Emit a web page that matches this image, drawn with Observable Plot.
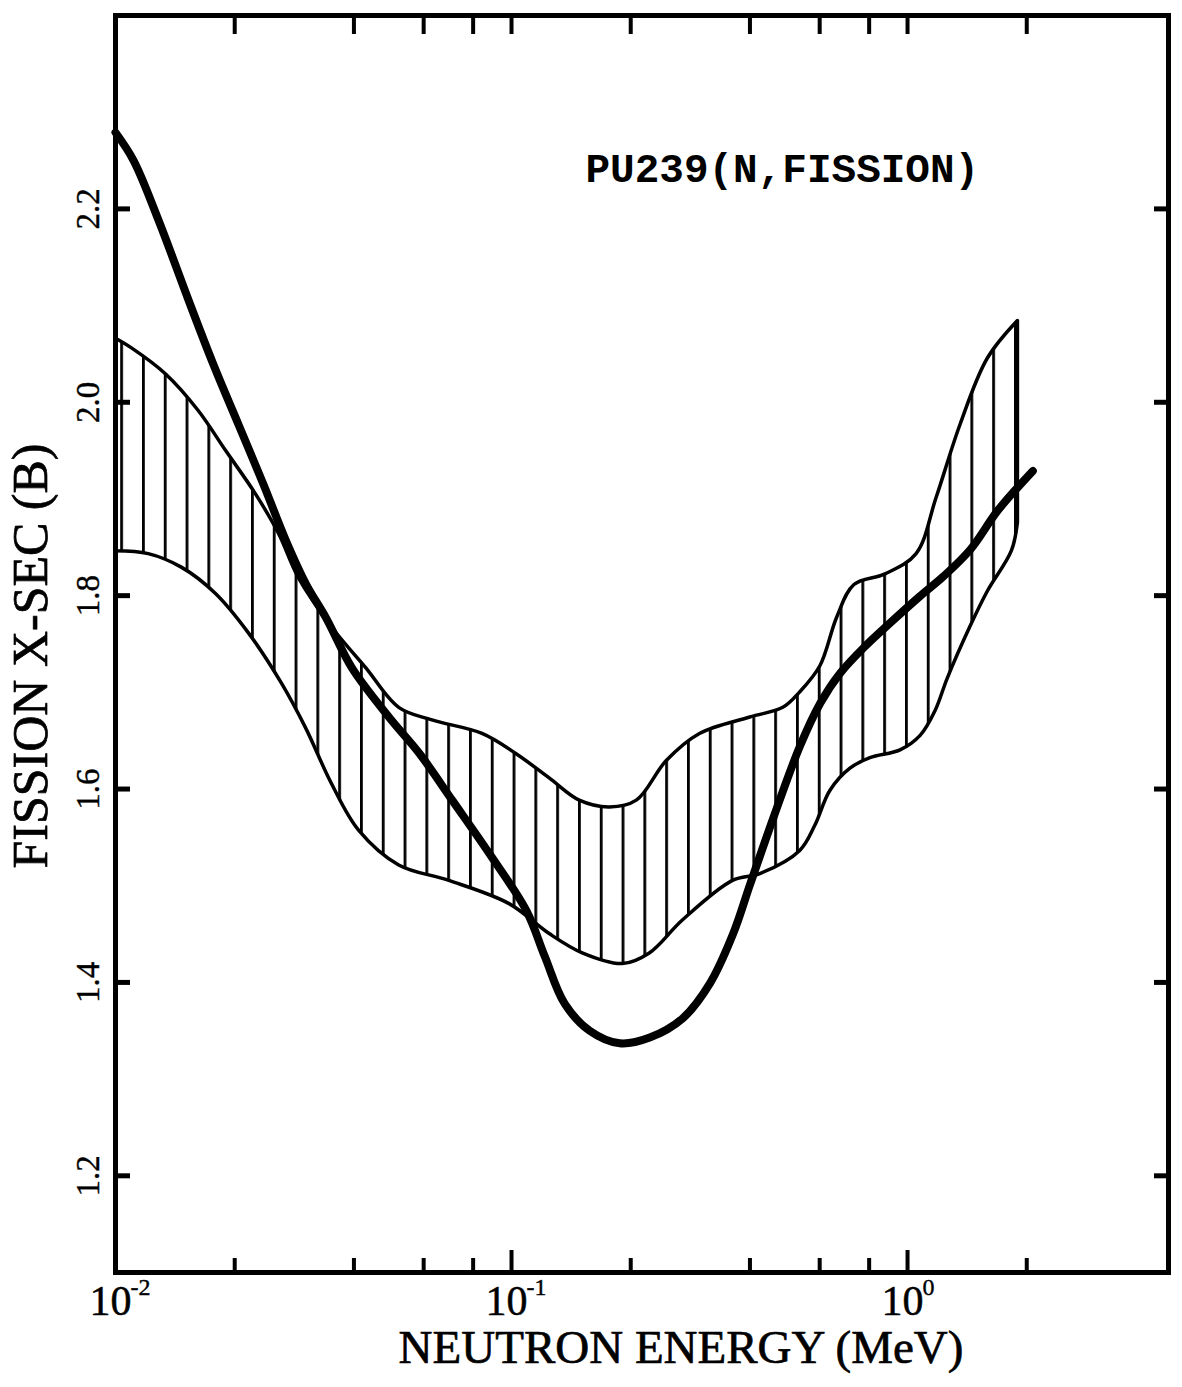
<!DOCTYPE html>
<html><head><meta charset="utf-8">
<script src="https://cdn.jsdelivr.net/npm/d3@7"></script>
<script src="https://cdn.jsdelivr.net/npm/@observablehq/plot@0.6"></script>
<style>body{margin:0;background:#fff}#chart svg{display:block}</style>
</head><body><div id="chart"></div>
<script>
// Evaluated Pu-239 fission cross section (thick curve), energy in MeV, cross section in barns
const evalE  = [0.0100,0.01111,0.01285,0.01531,0.01771,0.02049,0.02370,0.02693,0.03027,0.03401,0.03957,0.04912,0.05848,0.07096,0.08799,0.1091,0.1213,0.1362,0.1575,0.1876,0.2234,0.2708,0.3170,0.3625,0.4008,0.4581,0.5358,0.6024,0.6765,0.7831,0.9164,1.072,1.233,1.443,1.690,2.072];
const evalXS = [2.279,2.250,2.188,2.105,2.038,1.976,1.914,1.857,1.812,1.777,1.725,1.674,1.637,1.588,1.533,1.474,1.427,1.378,1.350,1.337,1.343,1.363,1.399,1.450,1.502,1.570,1.645,1.689,1.720,1.748,1.774,1.799,1.820,1.848,1.888,1.929];
// Upper edge of the hatched band
const upperE  = [0.0100,0.01098,0.01340,0.01622,0.01899,0.02261,0.02586,0.02904,0.03522,0.04295,0.05204,0.06310,0.08447,0.1030,0.1248,0.1487,0.1771,0.2072,0.2466,0.2991,0.4008,0.4856,0.5358,0.6024,0.6653,0.7345,0.8796,1.054,1.184,1.362,1.594,1.90];
const upperXS = [2.066,2.056,2.029,1.991,1.950,1.905,1.864,1.818,1.767,1.725,1.684,1.671,1.657,1.636,1.611,1.588,1.581,1.588,1.629,1.657,1.674,1.684,1.700,1.727,1.778,1.811,1.822,1.843,1.901,1.977,2.045,2.084];
// Lower edge of the hatched band
const lowerE  = [0.0100,0.01213,0.01470,0.01791,0.02172,0.02632,0.03027,0.03522,0.04121,0.05204,0.06966,0.09886,0.1248,0.1513,0.1910,0.2234,0.2708,0.3625,0.4246,0.5358,0.5849,0.6383,0.7174,0.8058,0.9600,1.079,1.178,1.263,1.443,1.594,1.834,1.90];
const lowerXS = [1.846,1.843,1.829,1.802,1.761,1.709,1.663,1.605,1.557,1.521,1.505,1.481,1.450,1.430,1.419,1.430,1.464,1.505,1.512,1.536,1.562,1.598,1.621,1.632,1.640,1.655,1.681,1.714,1.768,1.804,1.846,1.875];

const yTicks = [1.2, 1.4, 1.6, 1.8, 2.0, 2.2];
const yTickLabels = ["1.2", "1.4", "1.6", "1.8", "2.0", "2.2"];
const xMajor = [0.01, 0.1, 1];
const xExponents = ["-2", "-1", "0"];
const xMinor = [0.02, 0.04, 0.06, 0.08, 0.2, 0.4, 0.6, 0.8, 2];
const xTopTicks = [0.02, 0.04, 0.06, 0.08, 0.1, 0.2, 0.4, 0.6, 0.8, 1, 2];

const xTitle = "NEUTRON ENERGY (MeV)";
const yTitle = "FISSION X-SEC (B)";
const label = "PU239(N,FISSION)";

const band = d3.range(upperE.length);
const evalData = evalE.map((e, i) => ({e, xs: evalXS[i]}));

const serif = "'Liberation Serif', 'DejaVu Serif', serif";
const heavy = {fill: "#000", stroke: "#000", strokeWidth: 0.7};

const chart = Plot.plot({
  width: 1182,
  height: 1387,
  marginLeft: 115,
  marginRight: 14,
  marginTop: 15,
  marginBottom: 115,
  style: {fontFamily: serif, background: "#fff", color: "#000"},
  x: {type: "log", domain: [0.01, 4.56], axis: null},
  y: {domain: [1.1, 2.4], axis: null},
  marks: [
    Plot.area(band, {
      x1: i => lowerE[i], y1: i => lowerXS[i],
      x2: i => upperE[i], y2: i => upperXS[i],
      curve: "catmull-rom",
      fill: "url(#hatch)",
      stroke: "#000", strokeWidth: 3.5, strokeLinejoin: "round"
    }),
    Plot.line(evalData, {x: "e", y: "xs", curve: "catmull-rom", stroke: "#000", strokeWidth: 8, strokeLinecap: "round"}),
    Plot.frame({stroke: "#000", strokeWidth: 5}),
    Plot.axisX(xMinor, {anchor: "bottom", label: null, tickSize: -14, strokeWidth: 4, tickFormat: () => ""}),
    Plot.axisX(xMajor.slice(1), {anchor: "bottom", label: null, tickSize: -22, strokeWidth: 4, tickFormat: () => ""}),
    Plot.axisX(xTopTicks, {anchor: "top", label: null, tickSize: -18, strokeWidth: 4, tickFormat: () => ""}),
    Plot.axisY(yTicks, {anchor: "left", label: null, tickSize: -15, strokeWidth: 5, tickFormat: () => ""}),
    Plot.axisY(yTicks, {anchor: "right", label: null, tickSize: -15, strokeWidth: 5, tickFormat: () => ""}),
    Plot.text(yTicks, {y: d => d, text: (d, i) => yTickLabels[i], frameAnchor: "left", textAnchor: "middle", dx: -27, rotate: -90, fontSize: 33, ...heavy, strokeWidth: 0.4}),
    Plot.text(xMajor, {x: d => d, text: () => "10", frameAnchor: "bottom", textAnchor: "middle", dy: 42, dx: -5, fontSize: 42, ...heavy, strokeWidth: 0.5}),
    Plot.text(xMajor, {x: d => d, text: (d, i) => xExponents[i], frameAnchor: "bottom", dy: 22, dx: 15, fontSize: 24, textAnchor: "start", ...heavy, strokeWidth: 0.4}),
    Plot.text([xTitle], {frameAnchor: "bottom", textAnchor: "middle", dy: 90, dx: 39, fontSize: 47, ...heavy}),
    Plot.text([yTitle], {frameAnchor: "left", textAnchor: "middle", dx: -85, dy: 12, rotate: -90, fontSize: 50, ...heavy}),
    Plot.text([label], {frameAnchor: "top-left", dx: 470, dy: 137, textAnchor: "start", fontSize: 41, fontWeight: "bold", fontFamily: "'Liberation Mono', 'DejaVu Sans Mono', monospace", fill: "#000"})
  ]
});

const defs = d3.select(chart).insert("defs", ":first-child");
const pat = defs.append("pattern")
  .attr("id", "hatch")
  .attr("patternUnits", "userSpaceOnUse")
  .attr("x", 142).attr("y", 0)
  .attr("width", 21.8).attr("height", 20);
pat.append("rect").attr("x", 0).attr("y", 0).attr("width", 2.8).attr("height", 20).attr("fill", "#000");

document.getElementById("chart").appendChild(chart);
</script>
</body></html>
